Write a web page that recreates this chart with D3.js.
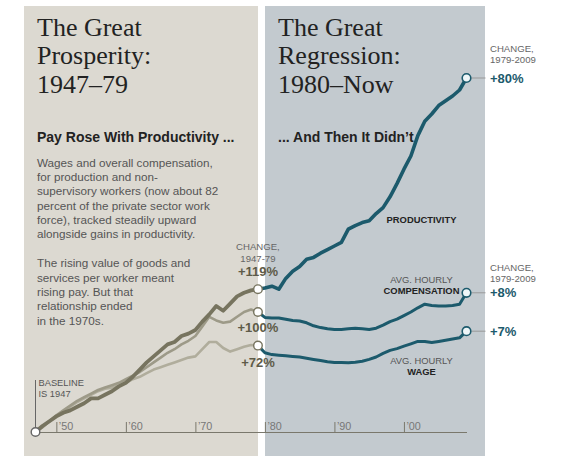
<!DOCTYPE html>
<html>
<head>
<meta charset="utf-8">
<script src="https://cdn.jsdelivr.net/npm/d3@7"></script>
<style>
  body { margin: 0; background: #fff; }
  svg { display: block; }
  .sans { font-family: "Liberation Sans", Arial, sans-serif; }
  .serif { font-family: "Liberation Serif", "Times New Roman", serif; }
</style>
</head>
<body>
<div id="chart"></div>
<script>
// Percent change since 1947 (index values)
const years = d3.range(1947, 2010);

const productivity = [
  0, 5, 9, 13, 16, 18, 21, 24, 28, 28, 31, 34, 38, 41, 46, 52, 58, 63, 68, 73,
  75, 80, 82, 85, 92, 98, 105, 101, 107, 113, 116, 118, 119,
  120, 121.5, 119, 128, 134, 138, 144, 145.5, 149, 152, 155, 158, 169, 172, 174.5,
  176, 182, 187, 196, 207, 219, 230, 247, 259, 265, 272, 276, 280, 285, 295
];

const compensation = [
  0, 4, 9, 14, 18, 22, 26, 29, 32, 35, 37, 39, 41, 44, 47, 50, 54, 58, 62, 66,
  69, 73, 76, 80, 88, 96, 93, 91, 92, 96, 100, 102, 100,
  95.5, 95, 95, 94, 93, 92.5, 91, 88.5, 87, 86, 85.5, 85.5, 86, 86.5, 86,
  85.5, 86.5, 89, 92, 94, 97, 100, 103.5, 106.5, 105.5, 105, 105, 105.5, 106.5, 116
];

const wage = [
  0, 4, 9, 13, 17, 21, 25, 28, 31, 34, 36, 37, 39, 41, 44, 46, 49, 52, 54, 56,
  58, 60, 62, 63, 69, 75, 75, 70, 67, 69, 71, 72.5, 72,
  66, 64.5, 64, 63.5, 63, 62.5, 61.5, 60.5, 59.5, 58.5, 58, 58, 57.8, 58.2, 59,
  60.5, 62.5, 65.5, 68, 69.5, 71.5, 73.5, 75.5, 75.5, 74.5, 75.5, 76.5, 77.5, 78.5, 84
];

const tickYears = [1950, 1960, 1970, 1980, 1990, 2000];
const tickLabels = ["\u201950", "\u201960", "\u201970", "\u201980", "\u201990", "\u201900"];

const splitYear = 1979;
const change4779 = ["+119%", "+100%", "+72%"];
const change7909 = ["+80%", "+8%", "+7%"];

const leftText1 = [
  "Wages and overall compensation,",
  "for production and non-",
  "supervisory workers (now about 82",
  "percent of the private sector work",
  "force), tracked steadily upward",
  "alongside gains in productivity."
];
const leftText2 = [
  "The rising value of goods and",
  "services per worker meant",
  "rising pay. But that",
  "relationship ended",
  "in the 1970s."
];

const width = 571, height = 456;
const teal = "#1c5a6c";
const grayColors = { prod: "#77745f", comp: "#9d9a88", wage: "#b0ad9c" };

const svg = d3.select("#chart").append("svg")
  .attr("width", width)
  .attr("height", height);

// Panels
svg.append("rect").attr("x", 24).attr("y", 6).attr("width", 234).attr("height", 450).attr("fill", "#dcd9d1");
svg.append("rect").attr("x", 265).attr("y", 6).attr("width", 220).attr("height", 450).attr("fill", "#c3cacf");

const x = d3.scaleLinear().domain([1947, 2009]).range([35.5, 466.5]);
const y = d3.scaleLinear().domain([0, 100]).range([432, 312]);

// Titles
const titleL = ["The Great", "Prosperity:", "1947\u201379"];
const titleR = ["The Great", "Regression:", "1980\u2013Now"];
[[titleL, 37], [titleR, 278]].forEach(([lines, tx]) => {
  svg.append("text")
    .attr("class", "serif")
    .attr("x", tx).attr("y", 36)
    .style("font-size", "26px")
    .attr("fill", "#222")
    .selectAll("tspan")
    .data(lines)
    .enter().append("tspan")
    .attr("x", tx)
    .attr("dy", (d, i) => i === 0 ? 0 : 28.3)
    .text(d => d);
});

svg.append("text").attr("class", "sans")
  .attr("x", 37).attr("y", 141.5)
  .style("font-size", "14px").style("font-weight", "bold")
  .attr("fill", "#222")
  .text("Pay Rose With Productivity ...");

svg.append("text").attr("class", "sans")
  .attr("x", 278).attr("y", 141.5)
  .style("font-size", "14px").style("font-weight", "bold")
  .attr("fill", "#222")
  .text("... And Then It Didn\u2019t");

function paragraph(lines, y0) {
  svg.append("text").attr("class", "sans")
    .attr("x", 37).attr("y", y0)
    .style("font-size", "11.7px")
    .attr("fill", "#555")
    .selectAll("tspan")
    .data(lines)
    .enter().append("tspan")
    .attr("x", 37)
    .attr("dy", (d, i) => i === 0 ? 0 : 14.3)
    .text(d => d);
}
paragraph(leftText1, 166.7);
paragraph(leftText2, 267.3);

// Axis
const axis = d3.axisBottom(x)
  .tickValues(tickYears)
  .tickSize(-10)
  .tickSizeOuter(0)
  .tickFormat((d, i) => tickLabels[i]);

const gx = svg.append("g")
  .attr("transform", `translate(0,${y(0)})`)
  .call(axis);
gx.select(".domain").attr("stroke", "#7a786c");
gx.selectAll(".tick line").attr("stroke", "#7a786c");
gx.selectAll(".tick text")
  .attr("class", "sans")
  .attr("x", 2).attr("y", -2.5).attr("dy", null)
  .attr("text-anchor", "start")
  .style("font-size", "10.8px")
  .attr("fill", "#777");

// Baseline marker
svg.append("line")
  .attr("x1", x(1947)).attr("x2", x(1947))
  .attr("y1", 380).attr("y2", y(0))
  .attr("stroke", "#666").attr("stroke-width", 1);
svg.append("text").attr("class", "sans")
  .attr("x", 38.5).attr("y", 385.7)
  .style("font-size", "9.3px").attr("fill", "#555")
  .selectAll("tspan")
  .data(["BASELINE", "IS 1947"])
  .enter().append("tspan")
  .attr("x", 38.5)
  .attr("dy", (d, i) => i === 0 ? 0 : 11)
  .text(d => d);

// Series
const series = [
  { key: "prod", values: productivity, w1: 3.8, w2: 3.6 },
  { key: "comp", values: compensation, w1: 2.6, w2: 3 },
  { key: "wage", values: wage, w1: 2.6, w2: 3 }
];

const line = d3.line()
  .x(d => x(d.year))
  .y(d => y(d.value));

const pts = s => years.map((yr, i) => ({ year: yr, value: s.values[i] }));

// draw lighter series first so productivity sits on top
[series[2], series[1], series[0]].forEach(s => {
  const p = pts(s);
  svg.append("path")
    .datum(p.filter(d => d.year <= splitYear))
    .attr("d", line)
    .attr("fill", "none")
    .attr("stroke", grayColors[s.key])
    .attr("stroke-width", s.w1)
    .attr("stroke-linejoin", "round");
  svg.append("path")
    .datum(p.filter(d => d.year >= splitYear))
    .attr("d", line)
    .attr("fill", "none")
    .attr("stroke", teal)
    .attr("stroke-width", s.w2)
    .attr("stroke-linejoin", "round");
});

// Connectors to right labels
series.forEach(s => {
  const v = s.values[s.values.length - 1];
  svg.append("line")
    .attr("x1", x(2009) + 5).attr("x2", x(2009) + 19)
    .attr("y1", y(v)).attr("y2", y(v))
    .attr("stroke", "#999").attr("stroke-width", 1);
});

// Circles
svg.append("circle")
  .attr("cx", x(1947)).attr("cy", y(0)).attr("r", 4.3)
  .attr("fill", "#fff").attr("stroke", "#666").attr("stroke-width", 1.4);

series.forEach(s => {
  const i79 = years.indexOf(splitYear);
  svg.append("circle")
    .attr("cx", x(splitYear)).attr("cy", y(s.values[i79])).attr("r", 4.3)
    .attr("fill", "#fff").attr("stroke", grayColors.prod).attr("stroke-width", 1.4);
  svg.append("circle")
    .attr("cx", x(2009)).attr("cy", y(s.values[s.values.length - 1])).attr("r", 4.3)
    .attr("fill", "#eef6f8").attr("stroke", teal).attr("stroke-width", 1.6);
});

// 1947-79 change labels
const cx79 = x(splitYear);
svg.append("text").attr("class", "sans")
  .attr("x", cx79).attr("y", 250)
  .attr("text-anchor", "middle")
  .style("font-size", "9.6px").attr("fill", "#666")
  .selectAll("tspan")
  .data(["CHANGE,", "1947-79"])
  .enter().append("tspan")
  .attr("x", cx79)
  .attr("dy", (d, i) => i === 0 ? 0 : 11.5)
  .text(d => d);

const leftLabelY = [275.7, 331.7, 367.3];
change4779.forEach((t, i) => {
  svg.append("text").attr("class", "sans")
    .attr("x", cx79).attr("y", leftLabelY[i])
    .attr("text-anchor", "middle")
    .style("font-size", "13px").style("font-weight", "bold")
    .attr("fill", "#5e5b48")
    .text(t);
});

// 1979-2009 change labels
const rx = 490;
[[51.7, 63.3], [270.7, 282]].forEach(([a, b]) => {
  svg.append("text").attr("class", "sans")
    .attr("x", rx).attr("y", a)
    .style("font-size", "9.6px").attr("fill", "#666")
    .selectAll("tspan")
    .data(["CHANGE,", "1979-2009"])
    .enter().append("tspan")
    .attr("x", rx)
    .attr("y", (d, i) => i === 0 ? a : b)
    .text(d => d);
});

series.forEach((s, i) => {
  const v = s.values[s.values.length - 1];
  svg.append("text").attr("class", "sans")
    .attr("x", rx).attr("y", y(v) + 4.5)
    .style("font-size", "13px").style("font-weight", "bold")
    .attr("fill", teal)
    .text(change7909[i]);
});

// Series names
svg.append("text").attr("class", "sans")
  .attr("x", 421.5).attr("y", 222.7)
  .attr("text-anchor", "middle")
  .style("font-size", "9.4px").style("font-weight", "bold")
  .attr("fill", "#222")
  .text("PRODUCTIVITY");

[[283.3, "COMPENSATION"], [364, "WAGE"]].forEach(([ly, name]) => {
  const t = svg.append("text").attr("class", "sans")
    .attr("x", 421.5).attr("y", ly)
    .attr("text-anchor", "middle");
  t.append("tspan")
    .attr("x", 421.5)
    .style("font-size", "9.4px").attr("fill", "#555")
    .text("AVG. HOURLY");
  t.append("tspan")
    .attr("x", 421.5).attr("dy", 11)
    .style("font-size", "9.4px").style("font-weight", "bold").attr("fill", "#222")
    .text(name);
});
</script>
</body>
</html>
